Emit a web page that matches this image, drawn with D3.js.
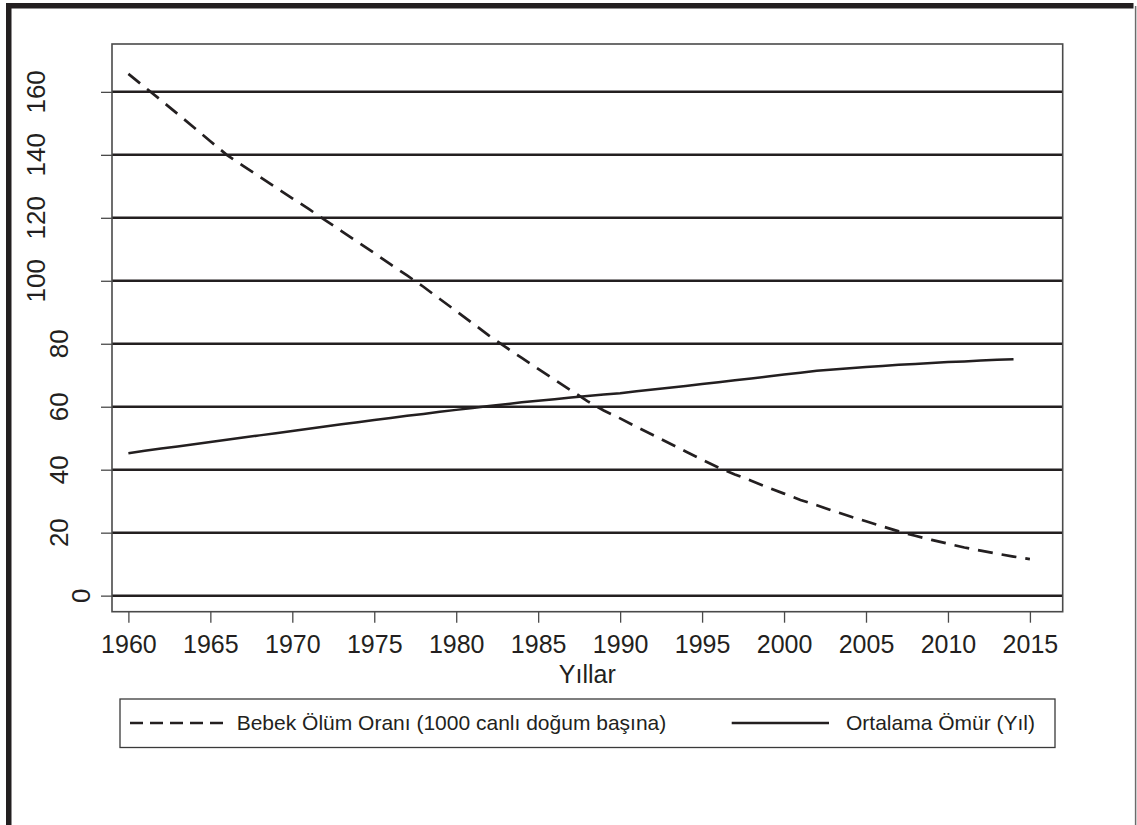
<!DOCTYPE html>
<html><head><meta charset="utf-8">
<script src="https://cdn.jsdelivr.net/npm/d3@7"></script>
<style>
body{margin:0;background:#fff}
svg{display:block}
text{font-family:"Liberation Sans",Arial,Helvetica,sans-serif;fill:#231f20}
</style>
</head><body>
<svg id="chart" width="1137" height="825"></svg>
<script>
// ---- data ----
const imrYears = [1960,1961,1962,1963,1964,1965,1966,1967,1968,1969,1970,1971,1972,1973,1974,1975,1976,1977,1978,1979,1980,1981,1982,1983,1984,1985,1986,1987,1988,1989,1990,1991,1992,1993,1994,1995,1996,1997,1998,1999,2000,2001,2002,2003,2004,2005,2006,2007,2008,2009,2010,2011,2012,2013,2014,2015];
const infantMortality = [165.7,161.5,157.3,153.0,148.7,144.3,140.0,136.5,133.1,129.6,126.2,122.8,119.3,115.8,112.3,108.8,105.2,101.7,98.1,94.2,90.4,86.5,82.6,79.0,75.5,72.0,68.6,65.2,61.8,58.8,56.3,53.6,51.0,48.4,45.8,43.2,40.7,38.5,36.5,34.4,32.4,30.4,28.7,26.9,25.2,23.6,22.0,20.4,19.0,17.7,16.5,15.3,14.3,13.3,12.4,11.6];
const lifeYears = [1960,1961,1962,1963,1964,1965,1966,1967,1968,1969,1970,1971,1972,1973,1974,1975,1976,1977,1978,1979,1980,1981,1982,1983,1984,1985,1986,1987,1988,1989,1990,1991,1992,1993,1994,1995,1996,1997,1998,1999,2000,2001,2002,2003,2004,2005,2006,2007,2008,2009,2010,2011,2012,2013,2014];
const lifeExpectancy = [45.2,46.0,46.7,47.4,48.1,48.8,49.5,50.2,50.9,51.6,52.3,53.0,53.7,54.4,55.1,55.8,56.4,57.1,57.7,58.4,59.0,59.6,60.2,60.8,61.4,61.9,62.4,62.9,63.4,63.9,64.3,64.9,65.5,66.0,66.6,67.2,67.8,68.4,69.0,69.6,70.2,70.8,71.4,71.8,72.2,72.6,72.9,73.3,73.6,73.9,74.2,74.4,74.7,74.9,75.1];
const yTicks = [0,20,40,60,80,100,120,140,160];
const xTicks = [1960,1965,1970,1975,1980,1985,1990,1995,2000,2005,2010,2015];
const xTitle = "Yıllar";
const seriesNames = ["Bebek Ölüm Oranı (1000 canlı doğum başına)", "Ortalama Ömür (Yıl)"];

// ---- layout ----
const ink = "#231f20";
const svg = d3.select("#chart");
const plot = {left:112, top:44, right:1062.7, bottom:611.7};

const x = d3.scaleLinear().domain([1959, 2017]).range([plot.left, plot.right]);
const y = d3.scaleLinear().domain([-5.1, 175.2]).range([plot.bottom, plot.top]);

// outer frame
svg.append("rect").attr("x",6).attr("y",3).attr("width",1127.5).attr("height",5.5).attr("fill",ink);
svg.append("rect").attr("x",6).attr("y",3).attr("width",5.5).attr("height",822).attr("fill",ink);
svg.append("line").attr("x1",1135.6).attr("x2",1135.6).attr("y1",6).attr("y2",825)
  .attr("stroke","#6b6b6b").attr("stroke-width",1.5);

// gridlines
svg.append("g").selectAll("line").data(yTicks).join("line")
  .attr("x1",plot.left).attr("x2",plot.right)
  .attr("y1",d=>y(d)).attr("y2",d=>y(d))
  .attr("stroke",ink).attr("stroke-width",2.5);

// plot frame
svg.append("rect").attr("x",plot.left).attr("y",plot.top)
  .attr("width",plot.right-plot.left).attr("height",plot.bottom-plot.top)
  .attr("fill","none").attr("stroke","#4a4a4a").attr("stroke-width",1.6);

// y axis
const yAxis = svg.append("g").attr("transform",`translate(${plot.left},0)`)
  .call(d3.axisLeft(y).tickValues(yTicks).tickSize(11).tickFormat(""));
yAxis.select(".domain").remove();
yAxis.selectAll(".tick line").attr("stroke","#4a4a4a").attr("stroke-width",1.3);
const yLabelBase = {1:90, 2:68, 3:45};
svg.append("g").selectAll("text").data(yTicks).join("text")
  .attr("transform",d=>`translate(${yLabelBase[String(d).length]},${y(d)}) rotate(-90)`)
  .attr("text-anchor","middle")
  .attr("font-size",26)
  .text(d=>d);

// x axis
const xAxis = svg.append("g").attr("transform",`translate(0,${plot.bottom})`)
  .call(d3.axisBottom(x).tickValues(xTicks).tickSize(11).tickPadding(13).tickFormat(d3.format("d")));
xAxis.select(".domain").remove();
xAxis.selectAll(".tick line").attr("stroke","#4a4a4a").attr("stroke-width",1.3);
xAxis.selectAll(".tick text").attr("font-size",25).attr("fill",ink)
  .attr("font-family",'"Liberation Sans",Arial,sans-serif').attr("dy","0.71em");

svg.append("text").attr("x",(plot.left+plot.right)/2).attr("y",683)
  .attr("text-anchor","middle").attr("font-size",25).text(xTitle);

// lines
const imrData = imrYears.map((yr,i)=>({yr, v:infantMortality[i]}));
const leData = lifeYears.map((yr,i)=>({yr, v:lifeExpectancy[i]}));
const line = d3.line().x(d=>x(d.yr)).y(d=>y(d.v));

svg.append("path").datum(imrData).attr("d",line)
  .attr("fill","none").attr("stroke",ink).attr("stroke-width",2.7)
  .attr("stroke-dasharray","15 9");
svg.append("path").datum(leData).attr("d",line)
  .attr("fill","none").attr("stroke",ink).attr("stroke-width",2.5)
  .attr("stroke-linejoin","round");

// legend
const lg = svg.append("g");
lg.append("rect").attr("x",120).attr("y",699).attr("width",935).attr("height",48.5)
  .attr("fill","none").attr("stroke","#3a3a3a").attr("stroke-width",1.3);
lg.append("line").attr("x1",130).attr("x2",223).attr("y1",723).attr("y2",723)
  .attr("stroke",ink).attr("stroke-width",2.4).attr("stroke-dasharray","13 7");
lg.append("text").attr("x",236.7).attr("y",730).attr("font-size",21).text(seriesNames[0]);
lg.append("line").attr("x1",731.7).attr("x2",829).attr("y1",723).attr("y2",723)
  .attr("stroke",ink).attr("stroke-width",2.4);
lg.append("text").attr("x",846).attr("y",730).attr("font-size",21).text(seriesNames[1]);
</script>
</body></html>
